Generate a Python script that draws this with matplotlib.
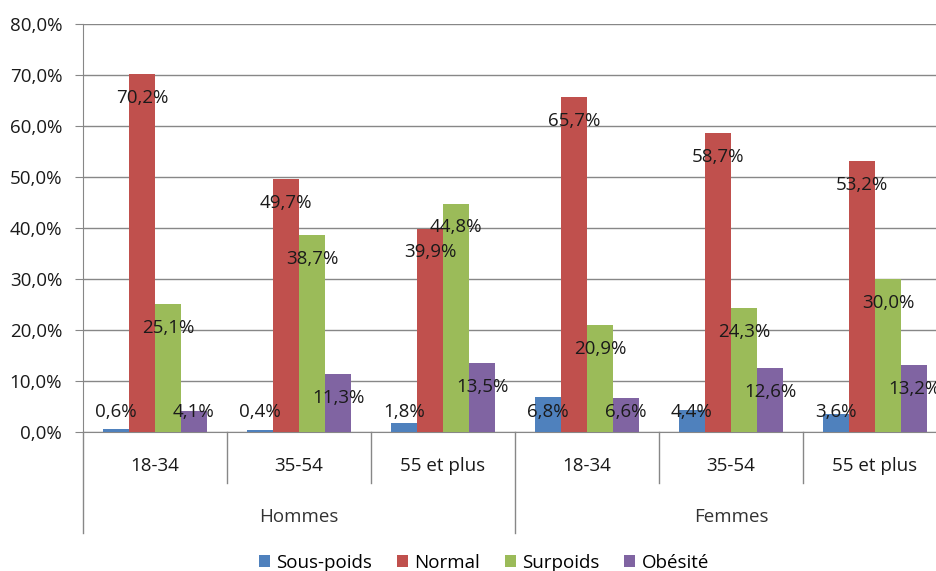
import numpy as np
import matplotlib
matplotlib.use("Agg")
import matplotlib.pyplot as plt
import matplotlib.transforms as mtransforms
from matplotlib.patches import Patch

plt.rcParams["font.family"] = ["Open Sans", "DejaVu Sans"]

# --- data ---
ages = ["18-34", "35-54", "55 et plus", "18-34", "35-54", "55 et plus"]
sexes = ["Hommes", "Femmes"]
series = ["Sous-poids", "Normal", "Surpoids", "Obésité"]
sous_poids = [0.6, 0.4, 1.8, 6.8, 4.4, 3.6]
normal = [70.2, 49.7, 39.9, 65.7, 58.7, 53.2]
surpoids = [25.1, 38.7, 44.8, 20.9, 24.3, 30.0]
obesite = [4.1, 11.3, 13.5, 6.6, 12.6, 13.2]

COLORS = ["#4F81BD", "#C0504D", "#9BBB59", "#8064A2"]
GRID = "#878787"
TEXT = "#1a1a1a"
FS = 13.5

fig = plt.figure(figsize=(9.37, 5.71), dpi=100)
ax = fig.add_axes([83 / 937, 139 / 571, 864 / 937, 408 / 571])

x = np.arange(len(ages)) + 0.5
w = 26 / 144
values = [sous_poids, normal, surpoids, obesite]

for i, (vals, col) in enumerate(zip(values, COLORS)):
    xs = x + (i - 1.5) * w
    ax.bar(xs, vals, w, color=col, zorder=3)
    for xi, v in zip(xs, vals):
        # Excel-style "inside end" label, kept above the baseline
        y = max(v - 4.7, 3.9)
        ax.text(xi, y, f"{v:.1f}%".replace(".", ","), ha="center", va="center",
                fontsize=FS, color=TEXT, zorder=5)

ax.set_xlim(0, 6)
ax.set_ylim(0, 80)
ticks = np.arange(0, 81, 10)
ax.set_yticks(ticks)
ax.set_yticklabels([f"{t:.1f}%".replace(".", ",") for t in ticks],
                   fontsize=FS, color=TEXT)
ax.yaxis.grid(True, color=GRID, linewidth=1)
ax.set_axisbelow(True)
ax.tick_params(axis="y", length=6, color=GRID, pad=9)
ax.set_xticks([])
for s in ["top", "right"]:
    ax.spines[s].set_visible(False)
ax.spines["left"].set_color(GRID)
ax.spines["bottom"].set_color(GRID)

# two-level category axis
trans = mtransforms.blended_transform_factory(ax.transData, ax.transAxes)
for k in range(7):
    low = -0.2475 if k % 3 == 0 else -0.125
    ax.plot([k, k], [0, low], color=GRID, linewidth=1, transform=trans, clip_on=False)
for xi, lab in zip(x, ages):
    ax.text(xi, -0.083, lab, transform=trans, ha="center", va="center",
            fontsize=FS, color=TEXT)
for k, lab in enumerate(sexes):
    ax.text(1.5 + 3 * k, -0.208, lab, transform=trans, ha="center", va="center",
            fontsize=FS, color="#333333")

handles = [Patch(facecolor=c, edgecolor="none") for c in COLORS]
fig.legend(handles, series, loc="center", bbox_to_anchor=(484 / 937, 8 / 571),
           ncol=4, frameon=False, fontsize=FS, handlelength=0.6, handleheight=0.6,
           handletextpad=0.35, columnspacing=1.3)

fig.savefig("out.png", dpi=100, facecolor="white")
